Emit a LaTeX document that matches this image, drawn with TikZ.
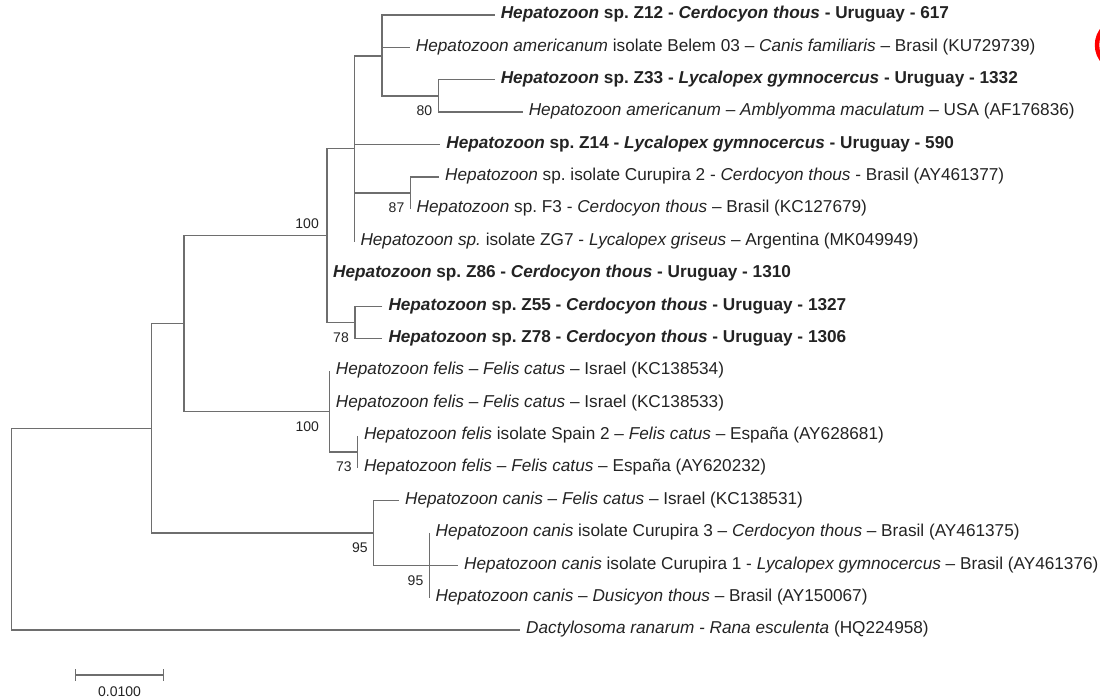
\documentclass[tikz,border=0pt]{standalone}
\usepackage{fontspec}
\setmainfont{Liberation Sans}
\definecolor{branch}{RGB}{110,110,110}
\definecolor{ink}{RGB}{35,35,35}
\newcommand{\tipfont}{\fontsize{17.2}{20}\selectfont}
\newcommand{\bootfont}{\fontsize{14}{16}\selectfont}
\frenchspacing

\begin{document}
\begin{tikzpicture}[x=1pt, y=-1pt,
    branch/.style={draw=branch, line width=1.25pt},
    tip/.style={anchor=base west, inner sep=0pt, xshift=6pt, yshift=-3.7pt, text=ink, font=\tipfont},
    boot/.style={anchor=east, inner sep=0pt, xshift=-6pt, yshift=-15pt, text=ink, font=\bootfont}]
    \useasboundingbox (0,0) rectangle (1100,698);

    % inner nodes
    \coordinate (nA) at (382,55.9);
    \coordinate (nB) at (438.4,95.9);
    \coordinate (nC) at (410.5,193);
    \coordinate (nD) at (354.3,148.8);
    \coordinate (nE) at (355,322.5);
    \coordinate (nF) at (327,235.6);
    \coordinate (nG) at (329.7,411.5);
    \coordinate (nH) at (357.8,452);
    \coordinate (nI) at (184.1,323.6);
    \coordinate (nJ) at (373.8,533);
    \coordinate (nK) at (429.5,565.3);
    \coordinate (nL) at (151.5,428.3);
    \coordinate (root) at (11.7,529.2);

    % tips
    \coordinate (t1) at (494.6,15);
    \coordinate (t2) at (409.7,47.4);
    \coordinate (t3) at (494.6,79.7);
    \coordinate (t4) at (522.6,112.1);
    \coordinate (t5) at (440.2,144.5);
    \coordinate (t6) at (439,176.9);
    \coordinate (t7) at (410.5,209.2);
    \coordinate (t8) at (354.3,241.6);
    \coordinate (t9) at (327,274);
    \coordinate (t10) at (382.3,306.3);
    \coordinate (t11) at (382.3,338.7);
    \coordinate (t12) at (329.7,371.1);
    \coordinate (t13) at (329.7,403.4);
    \coordinate (t14) at (357.8,435.8);
    \coordinate (t15) at (357.8,468.2);
    \coordinate (t16) at (399,500.6);
    \coordinate (t17) at (429.5,532.9);
    \coordinate (t18) at (458,565.3);
    \coordinate (t19) at (429.5,597.7);
    \coordinate (t20) at (520,630);

    % branches
    \draw[branch] (t1) -| (nA) |- (nB);
    \draw[branch] (nA |- t2) -- (t2);
    \draw[branch] (t3) -| (nB) |- (t4);
    \draw[branch] (t6) -| (nC) |- (t7);
    \draw[branch] (nA) -| (nD) |- (t8);
    \draw[branch] (nD |- t5) -- (t5);
    \draw[branch] (nD |- nC) -- (nC);
    \draw[branch] (t10) -| (nE) |- (t11);
    \draw[branch] (nD) -| (nF) |- (nE);
    \draw[branch] (nF |- t9) -- (t9);
    \draw[branch] (t14) -| (nH) |- (t15);
    \draw[branch] (t12) -| (nG) |- (nH);
    \draw[branch] (nG |- t13) -- (t13);
    \draw[branch] (nF) -| (nI) |- (nG);
    \draw[branch] (t17) -| (nK) |- (t19);
    \draw[branch] (nK |- t18) -- (t18);
    \draw[branch] (t16) -| (nJ) |- (nK);
    \draw[branch] (nI) -| (nL) |- (nJ);
    \draw[branch] (nL) -| (root) |- (t20);

    % tip labels
    \node[tip] (z12) at (t1) {\textbf{\textit{Hepatozoon} sp. Z12 - \textit{Cerdocyon thous} - Uruguay - 617}};
    \node[tip] (ku729739) at (t2) {\textit{Hepatozoon americanum} isolate Belem 03 -- \textit{Canis familiaris} -- Brasil (KU729739)};
    \node[tip] (z33) at (t3) {\textbf{\textit{Hepatozoon} sp. Z33 - \textit{Lycalopex gymnocercus} - Uruguay - 1332}};
    \node[tip] (af176836) at (t4) {\textit{Hepatozoon americanum} -- \textit{Amblyomma maculatum} -- USA (AF176836)};
    \node[tip] (z14) at (t5) {\textbf{\textit{Hepatozoon} sp. Z14 - \textit{Lycalopex gymnocercus} - Uruguay - 590}};
    \node[tip] (ay461377) at (t6) {\textit{Hepatozoon} sp. isolate Curupira 2 - \textit{Cerdocyon thous} - Brasil (AY461377)};
    \node[tip] (kc127679) at (t7) {\textit{Hepatozoon} sp. F3 - \textit{Cerdocyon thous} -- Brasil (KC127679)};
    \node[tip] (mk049949) at (t8) {\textit{Hepatozoon sp.} isolate ZG7 - \textit{Lycalopex griseus} -- Argentina (MK049949)};
    \node[tip] (z86) at (t9) {\textbf{\textit{Hepatozoon} sp. Z86 - \textit{Cerdocyon thous} - Uruguay - 1310}};
    \node[tip] (z55) at (t10) {\textbf{\textit{Hepatozoon} sp. Z55 - \textit{Cerdocyon thous} - Uruguay - 1327}};
    \node[tip] (z78) at (t11) {\textbf{\textit{Hepatozoon} sp. Z78 - \textit{Cerdocyon thous} - Uruguay - 1306}};
    \node[tip] (kc138534) at (t12) {\textit{Hepatozoon felis} -- \textit{Felis catus} -- Israel (KC138534)};
    \node[tip] (kc138533) at (t13) {\textit{Hepatozoon felis} -- \textit{Felis catus} -- Israel (KC138533)};
    \node[tip] (ay628681) at (t14) {\textit{Hepatozoon felis} isolate Spain 2 -- \textit{Felis catus} -- España (AY628681)};
    \node[tip] (ay620232) at (t15) {\textit{Hepatozoon felis} -- \textit{Felis catus} -- España (AY620232)};
    \node[tip] (kc138531) at (t16) {\textit{Hepatozoon canis} -- \textit{Felis catus} -- Israel (KC138531)};
    \node[tip] (ay461375) at (t17) {\textit{Hepatozoon canis} isolate Curupira 3 -- \textit{Cerdocyon thous} -- Brasil (AY461375)};
    \node[tip] (ay461376) at (t18) {\textit{Hepatozoon canis} isolate Curupira 1 - \textit{Lycalopex gymnocercus} -- Brasil (AY461376)};
    \node[tip] (ay150067) at (t19) {\textit{Hepatozoon canis} -- \textit{Dusicyon thous} -- Brasil (AY150067)};
    \node[tip] (hq224958) at (t20) {\textit{Dactylosoma ranarum - Rana esculenta} (HQ224958)};

    % bootstrap values
    \node[boot] (bB) at (nB) {80};
    \node[boot] (bC) at (nC) {87};
    \node[boot, xshift=-2pt, yshift=27pt] (bF) at (nF) {100};
    \node[boot] (bE) at (nE) {78};
    \node[boot, xshift=-4.5pt] (bG) at (nG) {100};
    \node[boot] (bH) at (nH) {73};
    \node[boot] (bJ) at (nJ) {95};
    \node[boot] (bK) at (nK) {95};

    % scale bar
    \coordinate (sbl) at (75.4,675);
    \coordinate (sbr) at (163.8,675);
    \draw[branch] (sbl) -- (sbr);
    \draw[branch] ([yshift=6pt]sbl) -- ([yshift=-6pt]sbl);
    \draw[branch] ([yshift=6pt]sbr) -- ([yshift=-6pt]sbr);
    \node[anchor=north, inner sep=0pt, text=ink, font=\bootfont] (scale) at (119.6,687) {0.0100};

    % red mark at the edge
    \draw[red, line width=4.5pt] (1122,45) circle (25);
\end{tikzpicture}
\end{document}
